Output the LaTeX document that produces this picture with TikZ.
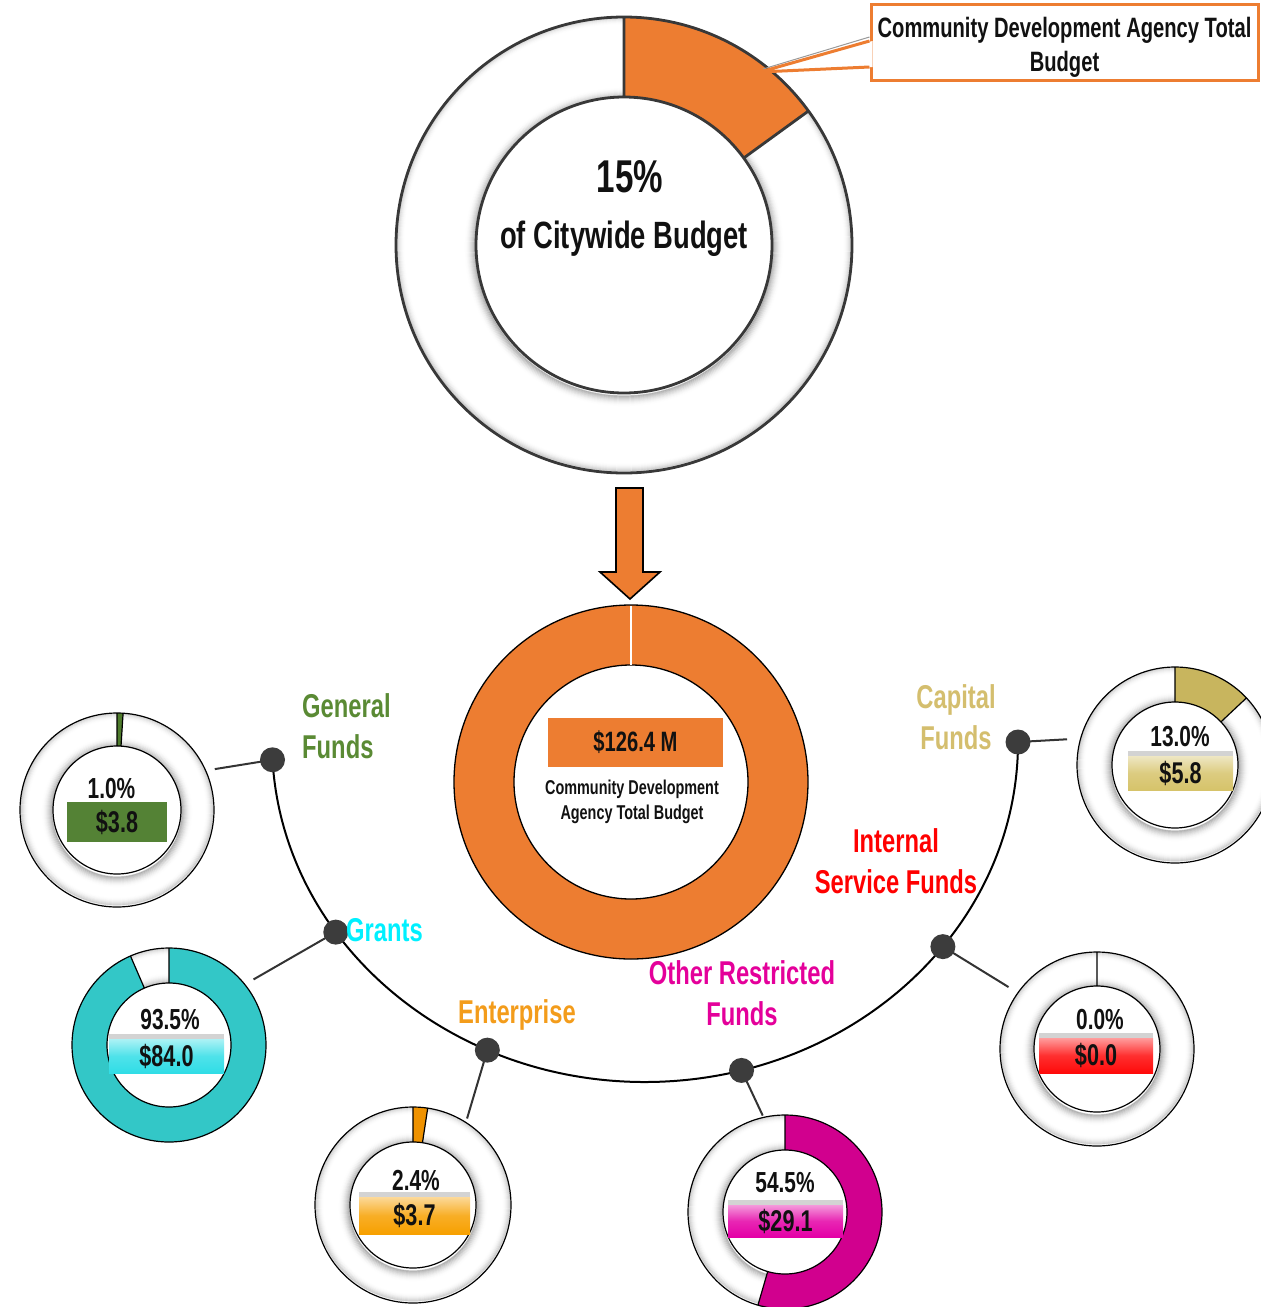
\documentclass[tikz,border=0pt]{standalone}
\usepackage{fontspec}
\newfontfamily\agency[FakeStretch=0.72]{Liberation Sans}
\usetikzlibrary{shadows}

% palette
\definecolor{cdaorange}{HTML}{ED7D31}
\definecolor{genslice}{HTML}{4E7B2C}
\definecolor{genbox}{HTML}{548235}
\definecolor{genlbl}{HTML}{5A8A34}
\definecolor{grslice}{HTML}{33C7C7}
\definecolor{grbox}{HTML}{30DDE6}
\definecolor{grlbl}{HTML}{00F0FF}
\definecolor{entslice}{HTML}{EF9200}
\definecolor{entbox}{HTML}{F7A000}
\definecolor{entlbl}{HTML}{F39C1B}
\definecolor{othslice}{HTML}{D1008E}
\definecolor{othbox}{HTML}{E400A6}
\definecolor{othlbl}{HTML}{E4009A}
\definecolor{intbox}{HTML}{FF0A0A}
\definecolor{intlbl}{HTML}{FF0000}
\definecolor{capslice}{HTML}{C8B55E}
\definecolor{capbox}{HTML}{D6C36A}
\definecolor{caplbl}{HTML}{D4BE6E}
\definecolor{dotgray}{HTML}{3C3C3C}
\definecolor{inkblack}{HTML}{111111}

\pgfdeclarelayer{back}
\pgfsetlayers{back,main}

% ring chart: #1 centre, #2 outer radius, #3 inner radius, #4 filled sweep (deg), #5 slice colour, #6 outline options
\newcommand\ringchart[6]{%
  \begin{scope}[shift={(#1)}]
    \fill[white, even odd rule] (0,0) circle[radius=#2pt] (0,0) circle[radius=#3pt];
    % soft shading along both edges of the ring
    \begin{scope}[even odd rule]
      \clip (0,0) circle[radius=#2pt] (0,0) circle[radius=#3pt];
      \foreach \k [evaluate=\k as \op using {0.30*(1-\k/12)^2}] in {1,...,11}
        \draw[black, opacity=\op, line width=1.2pt] (0,-2pt) circle[radius={#3pt+\k pt}];
      \foreach \k [evaluate=\k as \op using {0.20*(1-\k/9)^2}] in {1,...,8}
        \draw[black, opacity=\op, line width=1.2pt] (0,1pt) circle[radius={#2pt-\k pt}];
    \end{scope}
    \fill[#5] (90:#2pt) arc[start angle=90, end angle={90-#4}, radius=#2pt]
      -- ({90-#4}:#3pt) arc[start angle={90-#4}, end angle=90, radius=#3pt] -- cycle;
    \draw[#6] (0,0) circle[radius=#2pt] (0,0) circle[radius=#3pt]
      (90:#3pt) -- (90:#2pt) ({90-#4}:#3pt) -- ({90-#4}:#2pt);
  \end{scope}}

\begin{document}
\begin{tikzpicture}[x=1pt,y=1pt,
  fnt/.style={font=\agency\bfseries\fontsize{#1}{#1}\selectfont},
  lbl/.style={font=\agency\bfseries\fontsize{33}{41}\selectfont, inner sep=0pt, align=center},
  pcttxt/.style={font=\agency\bfseries\fontsize{29}{29}\selectfont, text=inkblack, inner sep=0pt},
  valbox/.style={font=\agency\bfseries\fontsize{30}{30}\selectfont, text=inkblack, inner sep=0pt},
  bevel/.style={top color=#1!40!white, bottom color=#1, middle color=#1!85!white,
    drop shadow={shadow xshift=0pt, shadow yshift=5pt, opacity=0.35}},
  fdot/.style={circle, fill=dotgray, minimum size=25pt, inner sep=0pt},
  conn/.style={draw=black!80, line width=2pt},
  smallring/.style={draw=black, line width=1.2pt}]

\useasboundingbox (0,0) rectangle (1261,-1307);

% ---------- citywide share ring ----------
\coordinate (topc) at (624,-245);
\ringchart{topc}{228}{148}{54}{cdaorange}{draw=black!78, line width=2.8pt}
\node[fnt=46, text=inkblack, anchor=base, inner sep=0pt] (share) at (630,-192) {15\%};
\node[fnt=38, text=inkblack, anchor=base, inner sep=0pt] (cwb) at (624,-248) {of Citywide Budget};

% callout box with pointer
\node[draw=cdaorange, line width=3pt, fill=white, minimum width=387pt, minimum height=76pt,
  inner sep=0pt] (callout) at (1064.5,-42) {};
\node[align=center, text=inkblack, inner sep=0pt, font=\agency\bfseries\fontsize{28}{34}\selectfont]
  (callouttxt) at (1064.5,-47) {Community Development Agency Total\\Budget};
\coordinate (ctip) at (760,-72);
\fill[white] ([xshift=3pt,yshift=1pt]callout.west) -- (ctip) -- ([xshift=3pt,yshift=-25pt]callout.west) -- cycle;
\draw[black!40, line width=1pt] ([yshift=5pt]callout.west) -- ([xshift=3pt,yshift=3pt]ctip);
\draw[cdaorange, line width=3pt, line join=round] ([yshift=1pt]callout.west) -- (ctip) -- ([yshift=-25pt]callout.west);

% ---------- arrow down to agency ring ----------
\draw[fill=cdaorange, line width=1.6pt, line join=miter]
  (616,-488) -- (643,-488) -- (643,-572) -- (660,-572) -- (630,-599) -- (600,-572) -- (616,-572) -- cycle;

% ---------- agency total ring ----------
\coordinate (midc) at (631,-782);
\fill[cdaorange, even odd rule] (midc) circle[radius=177pt] (midc) circle[radius=117pt];
\draw[black, line width=1.3pt] (midc) circle[radius=177pt] (midc) circle[radius=117pt];
\draw[white, line width=1.5pt] (631,-606) -- (631,-665);
\node[fill=cdaorange, minimum width=175pt, minimum height=49pt, inner sep=0pt, fnt=28, text=inkblack]
  (total) at (635.5,-742.5) {\$126.4 M};
\node[font=\agency\bfseries\fontsize{20}{25}\selectfont, text=inkblack, align=center, inner sep=0pt]
  (cdatxt) at (632,-802) {Community Development\\Agency Total Budget};

% ---------- fund dots on the arc ----------
\coordinate (arcc) at (645,-742);
\path (arcc) ++(183:373pt and 340pt) node[fdot] (dgen) {};
\path (arcc) ++(214:373pt and 340pt) node[fdot] (dgr) {};
\path (arcc) ++(245:373pt and 340pt) node[fdot] (dent) {};
\path (arcc) ++(285:373pt and 340pt) node[fdot] (doth) {};
\path (arcc) ++(323:373pt and 340pt) node[fdot] (dint) {};
\path (arcc) ++(360:373pt and 340pt) node[fdot] (dcap) {};

% fund labels
\node[lbl, text=genlbl, align=left, anchor=west] (lgen) at (302,-726) {General\\Funds};
\node[lbl, text=grlbl, anchor=west] (lgr) at (346,-930) {Grants};
\node[lbl, text=entlbl, anchor=base] (lent) at (517,-1023) {Enterprise};
\node[lbl, text=othlbl] (loth) at (742,-993) {Other Restricted\\Funds};
\node[lbl, text=intlbl] (lint) at (896,-861) {Internal\\Service Funds};
\node[lbl, text=caplbl] (lcap) at (956,-717) {Capital\\Funds};

% ---------- fund rings ----------
\coordinate (cgen) at (117,-810);
\coordinate (cgr) at (169,-1045);
\coordinate (cent) at (413,-1205);
\coordinate (coth) at (785,-1212);
\coordinate (cint) at (1097,-1049);
\coordinate (ccap) at (1175,-765);

\ringchart{cgen}{97}{64}{3.6}{genslice}{smallring}
\ringchart{cgr}{97}{62}{336.6}{grslice}{smallring}
\ringchart{cent}{98}{63}{8.64}{entslice}{smallring}
\ringchart{coth}{97}{62}{196.2}{othslice}{smallring}
\ringchart{cint}{97}{63}{0}{white}{smallring}
\ringchart{ccap}{98}{63}{46.8}{capslice}{smallring}

% percentages and amounts
\node[pcttxt] (pgen) at (111.5,-789) {1.0\%};
\node[valbox, fill=genbox, minimum width=100pt, minimum height=40pt] (vgen) at (117,-822) {\$3.8};

\node[pcttxt] (pgr) at (170,-1020) {93.5\%};
\node[valbox, bevel=grbox, minimum width=115pt, minimum height=34pt] (vgr) at (166.5,-1056) {\$84.0};

\node[pcttxt] (pent) at (416,-1180) {2.4\%};
\node[valbox, bevel=entbox, minimum width=111pt, minimum height=37pt] (vent) at (414.5,-1215.5) {\$3.7};

\node[pcttxt] (poth) at (785,-1183) {54.5\%};
\node[valbox, bevel=othbox, minimum width=115pt, minimum height=32pt] (voth) at (785.5,-1221) {\$29.1};

\node[pcttxt] (pint) at (1100,-1020) {0.0\%};
\node[valbox, bevel=intbox, minimum width=114pt, minimum height=35pt] (vint) at (1096,-1055.5) {\$0.0};

\node[pcttxt] (pcap) at (1180,-737) {13.0\%};
\node[valbox, bevel=capbox, minimum width=105pt, minimum height=34pt] (vcap) at (1180.5,-773) {\$5.8};

% ---------- arc and connectors (behind the dots) ----------
\begin{pgfonlayer}{back}
  \draw[black, line width=2pt] (dgen.center) arc[start angle=183, end angle=360, x radius=373pt, y radius=340pt];
  \draw[conn] (dgen.center) -- ([shift={(22.7:106pt)}]cgen);
  \draw[conn] (dgr.center) -- ([shift={(37.8:107pt)}]cgr);
  \draw[conn] (dent.center) -- ([shift={(58:102pt)}]cent);
  \draw[conn] (doth.center) -- ([shift={(103:99pt)}]coth);
  \draw[conn] (dint.center) -- ([shift={(145:108pt)}]cint);
  \draw[conn] (dcap.center) -- ([shift={(166.6:111pt)}]ccap);
\end{pgfonlayer}
\end{tikzpicture}
\end{document}
